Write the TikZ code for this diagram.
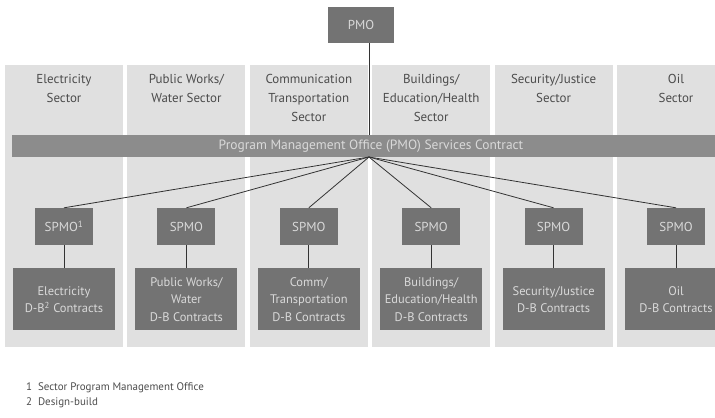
\documentclass[tikz,border=0pt]{standalone}
\usepackage{fontspec}
\setmainfont{PT Sans}
\usetikzlibrary{positioning}
\usepackage{xcolor}

\definecolor{colfill}{gray}{0.88}
\definecolor{bandfill}{gray}{0.55}
\definecolor{boxfill}{gray}{0.45}
\definecolor{boxtext}{gray}{0.85}
\definecolor{labeltext}{gray}{0.3}

\tikzset{
  sectorcol/.style={rectangle,fill=colfill,minimum width=118bp,minimum height=282bp,inner sep=0pt},
  sectorlabel/.style={anchor=north,align=center,text=labeltext,font=\fontsize{13}{19}\selectfont},
  spmobox/.style={rectangle,fill=boxfill,text=boxtext,minimum width=58bp,minimum height=37bp,inner sep=0pt,font=\fontsize{13}{15}\selectfont},
  contractbox/.style={rectangle,fill=boxfill,text=boxtext,minimum width=102bp,minimum height=62bp,inner sep=0pt,align=center,font=\fontsize{12.5}{17.5}\selectfont},
  spoke/.style={draw=black!80,line width=0.8pt}
}

\begin{document}
\begin{tikzpicture}[x=1bp,y=-1bp,node distance=23bp]
\useasboundingbox (0,0) rectangle (715,417);

% sector columns
\node[sectorcol] (col1) at (64,206) {};
\node[sectorcol] (col2) at (186.4,206) {};
\node[sectorcol] (col3) at (308.8,206) {};
\node[sectorcol] (col4) at (431.2,206) {};
\node[sectorcol] (col5) at (553.6,206) {};
\node[sectorcol] (col6) at (676,206) {};

\node[sectorlabel] (lab1) at (64,71) {Electricity\\Sector};
\node[sectorlabel] (lab2) at (186.4,71) {Public Works/\\Water Sector};
\node[sectorlabel] (lab3) at (308.8,71) {Communication\\Transportation\\Sector};
\node[sectorlabel] (lab4) at (431.2,71) {Buildings/\\Education/Health\\Sector};
\node[sectorlabel] (lab5) at (553.6,71) {Security/Justice\\Sector};
\node[sectorlabel] (lab6) at (676,71) {Oil\\Sector};

% top office and services contract
\node[rectangle,fill=boxfill,text=boxtext,minimum width=66bp,minimum height=36bp,inner sep=0pt,font=\fontsize{13}{15}\selectfont] (pmo) at (361,25) {PMO};
\node[rectangle,fill=bandfill,text=boxtext,minimum width=718bp,minimum height=22bp,inner sep=0pt,font=\fontsize{13.5}{15}\selectfont] (band) at (371,146) {Program Management Office (PMO) Services Contract};
\coordinate (hub) at (369,157);
\draw[spoke] (hub |- pmo.south) -- (hub |- band.north);

% sector offices
\node[spmobox] (spmo1) at (64,226.5) {SPMO\textsuperscript{1}};
\node[spmobox] (spmo2) at (186.4,226.5) {SPMO};
\node[spmobox] (spmo3) at (308.8,226.5) {SPMO};
\node[spmobox] (spmo4) at (431.2,226.5) {SPMO};
\node[spmobox] (spmo5) at (553.6,226.5) {SPMO};
\node[spmobox] (spmo6) at (676,226.5) {SPMO};

% design-build contracts
\node[contractbox,below=of spmo1] (db1) {Electricity\\D-B\textsuperscript{2} Contracts};
\node[contractbox,below=of spmo2] (db2) {Public Works/\\Water\\D-B Contracts};
\node[contractbox,below=of spmo3] (db3) {Comm/\\Transportation\\D-B Contracts};
\node[contractbox,below=of spmo4] (db4) {Buildings/\\Education/Health\\D-B Contracts};
\node[contractbox,below=of spmo5] (db5) {Security/Justice\\D-B Contracts};
\node[contractbox,below=of spmo6] (db6) {Oil\\D-B Contracts};

\draw[spoke] (hub) -- (spmo1.north);
\draw[spoke] (hub) -- (spmo2.north);
\draw[spoke] (hub) -- (spmo3.north);
\draw[spoke] (hub) -- (spmo4.north);
\draw[spoke] (hub) -- (spmo5.north);
\draw[spoke] (hub) -- (spmo6.north);

\draw[spoke] (spmo1) -- (db1);
\draw[spoke] (spmo2) -- (db2);
\draw[spoke] (spmo3) -- (db3);
\draw[spoke] (spmo4) -- (db4);
\draw[spoke] (spmo5) -- (db5);
\draw[spoke] (spmo6) -- (db6);

% footnotes
\node[anchor=west,align=left,text=labeltext,inner sep=0pt,font=\fontsize{11}{15}\selectfont] (notes) at (26,395.5) {1\ \ Sector Program Management Office\\2\ \ Design-build};
\end{tikzpicture}
\end{document}
